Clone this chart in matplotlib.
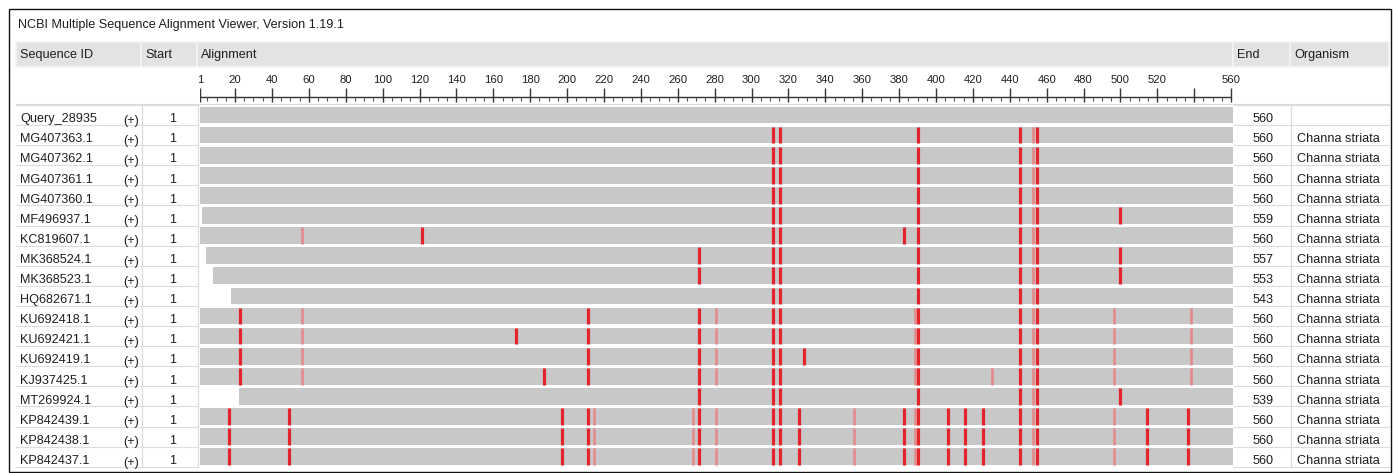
import matplotlib
matplotlib.use("Agg")
import matplotlib.pyplot as plt
from matplotlib import font_manager
from matplotlib.transforms import blended_transform_factory
from matplotlib.patches import Rectangle

# ---------------- data ----------------
title = "NCBI Multiple Sequence Alignment Viewer, Version 1.19.1"
headers = ["Sequence ID", "Start", "Alignment", "End", "Organism"]
seq_ids = ["Query_28935", "MG407363.1", "MG407362.1", "MG407361.1", "MG407360.1",
           "MF496937.1", "KC819607.1", "MK368524.1", "MK368523.1", "HQ682671.1",
           "KU692418.1", "KU692421.1", "KU692419.1", "KJ937425.1", "MT269924.1",
           "KP842439.1", "KP842438.1", "KP842437.1"]
strands = ["(+)"] * 18
start_vals = [1] * 18
end_vals = [560, 560, 560, 560, 560, 559, 560, 557, 553, 543,
            560, 560, 560, 560, 539, 560, 560, 560]
organisms = [""] + ["Channa striata"] * 17
aln_begin = [1, 1, 1, 1, 1, 2, 1, 4, 8, 18, 1, 1, 1, 1, 22, 1, 1, 1]
aln_end = [560] * 18
ruler_labels = [1, 20, 40, 60, 80, 100, 120, 140, 160, 180, 200, 220, 240, 260,
                280, 300, 320, 340, 360, 380, 400, 420, 440, 460, 480, 500, 520, 560]
ruler_unlabelled = [540]

mism_strong = [
    [],
    [311, 315, 390, 445, 454],
    [311, 315, 390, 445, 454],
    [311, 315, 390, 445, 454],
    [311, 315, 390, 445, 454],
    [311, 315, 390, 445, 454, 499],
    [121, 311, 315, 382, 390, 445, 454],
    [271, 311, 315, 390, 445, 454, 499],
    [271, 311, 315, 390, 445, 454, 499],
    [311, 315, 390, 445, 454],
    [22, 211, 271, 311, 315, 390, 445, 454],
    [22, 172, 211, 271, 311, 315, 390, 445, 454],
    [22, 211, 271, 311, 315, 328, 390, 445, 454],
    [22, 187, 211, 271, 311, 315, 390, 445, 454],
    [271, 311, 315, 390, 445, 454, 499],
    [16, 49, 197, 211, 271, 311, 315, 325, 382, 390, 406, 415, 425, 445, 454, 514, 536],
    [16, 49, 197, 211, 271, 311, 315, 325, 382, 390, 406, 415, 425, 445, 454, 514, 536],
    [16, 49, 197, 211, 271, 311, 315, 325, 382, 390, 406, 415, 425, 445, 454, 514, 536],
]
mism_weak = [
    [],
    [452], [452], [452], [452], [452],
    [56, 452],
    [452], [452], [452],
    [56, 280, 388, 452, 496, 538],
    [56, 280, 388, 452, 496, 538],
    [56, 280, 388, 452, 496, 538],
    [56, 280, 388, 430, 452, 496, 538],
    [452],
    [214, 268, 280, 355, 388, 452, 496],
    [214, 268, 280, 355, 388, 452, 496],
    [214, 268, 280, 355, 388, 452, 496],
]

# ---------------- style ----------------
names = {f.name for f in font_manager.fontManager.ttflist}
if "Liberation Sans Narrow" in names:
    FAM, SCALE = ["Liberation Sans Narrow", "DejaVu Sans"], 1.0
else:
    FAM, SCALE = ["Liberation Sans", "DejaVu Sans"], 0.84
plt.rcParams["font.family"] = FAM
FS = 10.8 * SCALE
FS_RULER = 9.6 * SCALE
TXT = "#1e1e1e"
GREY = "#c8c8c8"
RED = "#e3242b"
RED_WEAK = "#e58a8a"
LINE = "#dcdcdc"
HEAD = "#e3e3e3"

W, H = 1393, 473
fig = plt.figure(figsize=(W / 100, H / 100), dpi=100)


def px_rect(x0, y0, x1, y1):
    return [x0 / W, 1 - y1 / H, (x1 - x0) / W, (y1 - y0) / H]


# background / layout axes in pixel coordinates
bg = fig.add_axes([0, 0, 1, 1])
bg.set_xlim(0, W)
bg.set_ylim(H, 0)
bg.axis("off")

# outer frame
bg.add_patch(Rectangle((8.5, 9.5), 1382, 462, fill=False, ec="#111111", lw=1.0))
bg.text(18, 25, title, fontsize=FS, color=TXT, ha="left", va="center")

# header cells
cells = [(16, 141), (141, 197), (197, 1233), (1233, 1290), (1290, 1389)]
for (x0, x1), lab in zip(cells, headers):
    bg.add_patch(Rectangle((x0, 42), x1 - x0, 25, fc=HEAD, ec="#f4f4f4", lw=1.2))
    bg.text(x0 + 4, 55, lab, fontsize=FS, color=TXT, ha="left", va="center")

# ---------------- alignment axes ----------------
X0, X1 = 200, 1233
ROW0, PITCH = 115.0, 20.1
n = len(seq_ids)
Y0 = ROW0 - 0.5 * PITCH
Y1 = ROW0 + (n - 0.5) * PITCH
ax = fig.add_axes(px_rect(X0, Y0, X1, Y1))
ax.set_xlim(0, 560)
ax.set_ylim(n - 0.5, -0.5)
ax.axis("off")

rows = list(range(n))
lefts = [b - 1 for b in aln_begin]
widths = [e - (b - 1) for b, e in zip(aln_begin, aln_end)]
ax.barh(rows, widths, left=lefts, height=0.83, color=GREY, lw=0)
for i in rows:
    if mism_weak[i]:
        ax.vlines([p - 0.5 for p in mism_weak[i]], i - 0.415, i + 0.415,
                  colors=RED_WEAK, lw=1.9)
    if mism_strong[i]:
        ax.vlines([p - 0.5 for p in mism_strong[i]], i - 0.415, i + 0.415,
                  colors=RED, lw=2.3)

# table grid lines (pixel x, row y)
tr = blended_transform_factory(bg.transData, ax.transData)
for k in range(n + 1):
    yb = k - 0.5
    bg.plot([16, 198], [yb, yb], color=LINE, lw=0.8, transform=tr)
    bg.plot([1234, 1389], [yb, yb], color=LINE, lw=0.8, transform=tr)
for xv in (142, 198, 1291):
    bg.plot([xv, xv], [-0.5, n - 0.5], color=LINE, lw=0.9, transform=tr)

# row texts
for i in rows:
    yb = i + 0.36
    bg.text(20, yb, seq_ids[i], fontsize=FS, color=TXT, ha="left", va="baseline", transform=tr)
    bg.text(131, yb + 0.08, strands[i], fontsize=FS, color=TXT, ha="center", va="baseline", transform=tr)
    bg.text(173, yb, str(start_vals[i]), fontsize=FS, color=TXT, ha="center", va="baseline", transform=tr)
    bg.text(1263, yb, str(end_vals[i]), fontsize=FS, color=TXT, ha="center", va="baseline", transform=tr)
    bg.text(1297, yb, organisms[i], fontsize=FS, color=TXT, ha="left", va="baseline", transform=tr)

# ---------------- ruler ----------------
rax = fig.add_axes(px_rect(X0, 68, X1, 104))
rax.set_xlim(0, 560)
rax.set_ylim(104, 68)
rax.axis("off")
major = sorted(ruler_labels + ruler_unlabelled)
minor = [p for p in range(5, 560, 5) if p not in major]
rax.hlines(97, 0, 559, colors="#333333", lw=1.0)
rax.vlines([p - 1 for p in major], 88, 101.5, colors="#333333", lw=1.0)
rax.vlines([p - 1 for p in minor], 97, 100.5, colors="#555555", lw=0.8)
for p in ruler_labels:
    rax.text(p - 1, 80, str(p), fontsize=FS_RULER, color=TXT, ha="center", va="center")
bg.plot([16, 1389], [104.5, 104.5], color=LINE, lw=0.8)

fig.savefig("out.png", dpi=100)
